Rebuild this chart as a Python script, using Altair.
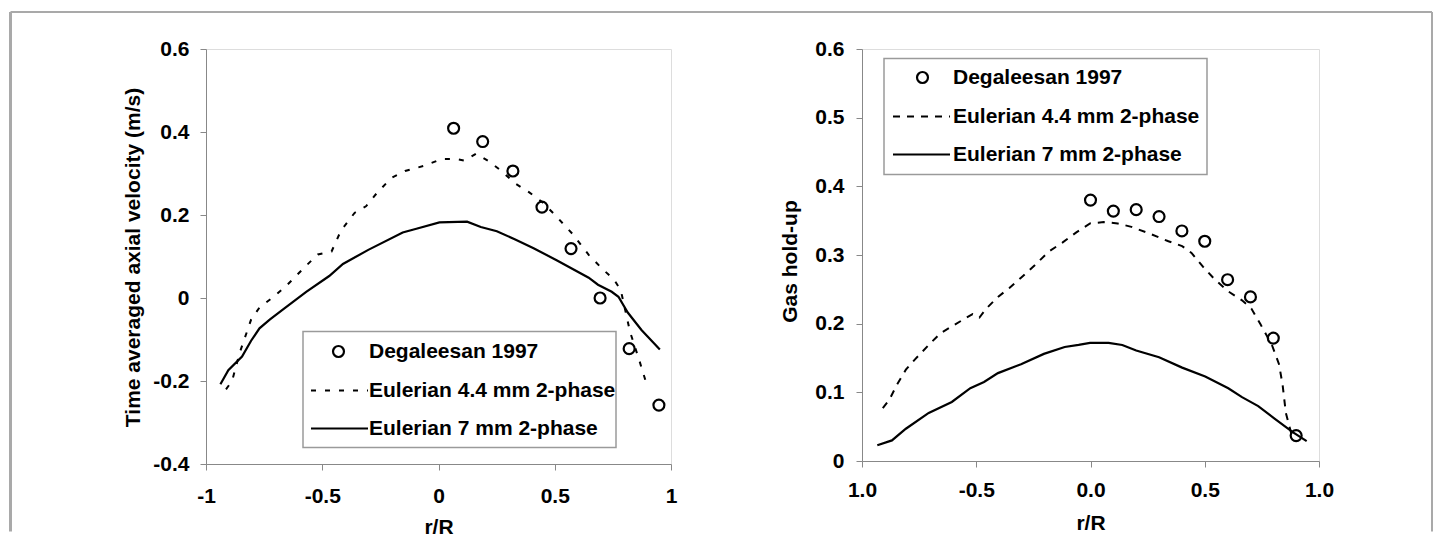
import altair as alt
import pandas as pd

FONT = "Liberation Sans"

# ---------------- Left panel: axial velocity ----------------
L_exp_x = [0.065, 0.19, 0.32, 0.445, 0.57, 0.695, 0.82, 0.948]
L_exp_y = [0.409, 0.377, 0.306, 0.219, 0.119, 0.0, -0.122, -0.258]

L_d44_x = [-0.914, -0.888, -0.855, -0.806, -0.77, -0.707, -0.657, -0.569, -0.519, -0.46,
           -0.42, -0.361, -0.312, -0.262, -0.203, -0.144, -0.065, 0.014, 0.073, 0.113,
           0.162, 0.212, 0.271, 0.33, 0.389, 0.449, 0.508, 0.577, 0.646, 0.705,
           0.754, 0.784, 0.824, 0.863, 0.893]
L_d44_y = [-0.22, -0.2, -0.132, -0.052, -0.023, 0.004, 0.028, 0.078, 0.105, 0.112,
           0.162, 0.205, 0.221, 0.255, 0.289, 0.306, 0.318, 0.335, 0.335, 0.331,
           0.348, 0.331, 0.306, 0.276, 0.255, 0.23, 0.196, 0.154, 0.104, 0.07,
           0.045, 0.019, -0.082, -0.149, -0.204]

L_d7_x = [-0.938, -0.904, -0.845, -0.806, -0.77, -0.726, -0.667, -0.569, -0.47, -0.411,
          -0.302, -0.154, -0.095, 0.004, 0.123, 0.182, 0.251, 0.33, 0.409, 0.508,
          0.646, 0.686, 0.745, 0.774, 0.814, 0.873, 0.952]
L_d7_y = [-0.208, -0.174, -0.141, -0.103, -0.073, -0.052, -0.027, 0.015, 0.053, 0.082,
          0.116, 0.158, 0.167, 0.182, 0.184, 0.171, 0.161, 0.141, 0.12, 0.091,
          0.049, 0.032, 0.015, 0.003, -0.035, -0.077, -0.124]

# ---------------- Right panel: gas hold-up ----------------
R_exp_x = [0.0, 0.1, 0.2, 0.3, 0.4, 0.5, 0.6, 0.7, 0.8, 0.9]
R_exp_y = [0.380, 0.364, 0.366, 0.356, 0.335, 0.320, 0.264, 0.239, 0.179, 0.037]

R_d44_x = [-0.909, -0.879, -0.849, -0.808, -0.768, -0.708, -0.657, -0.617, -0.567, -0.516,
           -0.486, -0.456, -0.405, -0.355, -0.304, -0.244, -0.183, -0.123, -0.062, -0.002,
           0.058, 0.119, 0.179, 0.26, 0.341, 0.401, 0.442, 0.492, 0.542, 0.603,
           0.663, 0.704, 0.744, 0.794, 0.825, 0.841, 0.855, 0.881]
R_d44_y = [0.077, 0.090, 0.110, 0.133, 0.148, 0.169, 0.186, 0.194, 0.204, 0.214,
           0.209, 0.222, 0.239, 0.252, 0.267, 0.285, 0.305, 0.318, 0.333, 0.346,
           0.348, 0.346, 0.341, 0.331, 0.320, 0.313, 0.303, 0.283, 0.265, 0.247,
           0.234, 0.222, 0.199, 0.169, 0.141, 0.110, 0.070, 0.037]

R_d7_x = [-0.933, -0.869, -0.808, -0.708, -0.607, -0.526, -0.466, -0.405, -0.304, -0.204,
          -0.113, -0.052, -0.002, 0.079, 0.139, 0.2, 0.3, 0.401, 0.502, 0.603,
          0.663, 0.734, 0.804, 0.885, 0.946]
R_d7_y = [0.023, 0.030, 0.047, 0.070, 0.086, 0.106, 0.115, 0.128, 0.141, 0.156,
          0.166, 0.169, 0.172, 0.172, 0.169, 0.161, 0.151, 0.136, 0.123, 0.106,
          0.093, 0.080, 0.062, 0.042, 0.029]

LEG_EXP = "Degaleesan 1997"
LEG_44 = "Eulerian 4.4 mm 2-phase"
LEG_7 = "Eulerian 7 mm 2-phase"

one = alt.Data(values=[{"k": 0}])


def legend_layers(bx0, bx1, by0, by1, rows, circ_x, line_x0, line_x1, text_x, dash):
    box = alt.Chart(one).mark_rect(fill="white", stroke="#9a9a9a", strokeWidth=1.5).encode(
        x=alt.value(bx0), x2=alt.value(bx1), y=alt.value(by0), y2=alt.value(by1))
    circ = alt.Chart(one).mark_point(shape="circle", filled=False, color="black",
                                     strokeWidth=2.2, size=120, opacity=1).encode(
        x=alt.value(circ_x), y=alt.value(rows[0]))
    l44 = alt.Chart(one).mark_rule(color="black", strokeWidth=2, strokeDash=dash).encode(
        x=alt.value(line_x0), x2=alt.value(line_x1), y=alt.value(rows[1]))
    l7 = alt.Chart(one).mark_rule(color="black", strokeWidth=2).encode(
        x=alt.value(line_x0), x2=alt.value(line_x1), y=alt.value(rows[2]))
    texts = []
    for lab, ry_ in zip([LEG_EXP, LEG_44, LEG_7], rows):
        texts.append(alt.Chart(one).mark_text(text=lab, align="left", baseline="middle",
                                              font=FONT, fontSize=21, fontWeight="bold",
                                              color="black").encode(
            x=alt.value(text_x), y=alt.value(ry_)))
    return [box, circ, l44, l7] + texts


def data_layers(ex, ey, dx, dy, sx, sy, xs, ys, dash):
    exp = alt.Chart(pd.DataFrame({"x": ex, "y": ey})).mark_point(
        shape="circle", filled=False, color="black", strokeWidth=2.2, size=120, opacity=1
    ).encode(x=xs("x"), y=ys("y"))
    d44 = alt.Chart(pd.DataFrame({"x": dx, "y": dy})).mark_line(
        color="black", strokeWidth=2, strokeDash=dash
    ).encode(x=xs("x"), y=ys("y"))
    d7 = alt.Chart(pd.DataFrame({"x": sx, "y": sy})).mark_line(
        color="black", strokeWidth=2.2
    ).encode(x=xs("x"), y=ys("y"))
    return [d44, d7, exp]


AX = dict(grid=False, domainColor="#888888", tickColor="#888888", tickSize=6,
          labelFont=FONT, labelFontSize=21, labelFontWeight="bold", labelColor="black",
          titleFont=FONT, titleFontSize=21, titleFontWeight="bold", titleColor="black",
          labelOverlap=False, labelFlush=False)

# Left panel
LW, LH = 465, 415
def lx(f):
    return alt.X(f"{f}:Q", scale=alt.Scale(domain=[-1, 1], nice=False, zero=False),
                 axis=alt.Axis(values=[-1, -0.5, 0, 0.5, 1], title="r/R",
                               labelExpr="toString(datum.value)", labelPadding=15,
                               titleX=LW / 2, titleY=63, titleBaseline="middle",
                               titleAlign="center", **AX))
def ly(f):
    return alt.Y(f"{f}:Q", scale=alt.Scale(domain=[-0.4, 0.6], nice=False, zero=False),
                 axis=alt.Axis(values=[-0.4, -0.2, 0, 0.2, 0.4, 0.6],
                               title="Time averaged axial velocity (m/s)",
                               labelExpr="toString(datum.value)", labelPadding=11,
                               titleX=-73, titleY=208, titleBaseline="middle",
                               titleAlign="center", titleAngle=270, **AX))

frame = [
    alt.Chart(one).mark_rule(color="#a9a9a9", strokeWidth=3).encode(
        x=alt.value(-195.5), y=alt.value(-37), y2=alt.value(482.5)),
    alt.Chart(one).mark_rule(color="#a9a9a9", strokeWidth=2).encode(
        x=alt.value(-195.5), x2=alt.value(1226), y=alt.value(-37)),
    alt.Chart(one).mark_rule(color="#a9a9a9", strokeWidth=2).encode(
        x=alt.value(1226), y=alt.value(-37), y2=alt.value(482.5)),
]

left = alt.layer(
    *frame,
    *data_layers(L_exp_x, L_exp_y, L_d44_x, L_d44_y, L_d7_x, L_d7_y, lx, ly, [5, 9]),
    *legend_layers(97, 410, 282.5, 398.5, [302.5, 341.5, 379.5], 132.5, 105, 162, 163, [5, 9]),
).properties(width=LW, height=LH)

# Right panel
RW, RH = 457, 412
def rx(f):
    return alt.X(f"{f}:Q", scale=alt.Scale(domain=[-1, 1], nice=False, zero=False),
                 axis=alt.Axis(values=[-1, -0.5, 0, 0.5, 1], title="r/R",
                               labelExpr="(datum.value == -1 || datum.value == 1) ? '1.0' : (datum.value == 0 ? '0.0' : toString(datum.value))",
                               labelPadding=12,
                               titleX=RW / 2, titleY=62, titleBaseline="middle",
                               titleAlign="center", **AX))
def ry(f):
    return alt.Y(f"{f}:Q", scale=alt.Scale(domain=[0, 0.6], nice=False, zero=False),
                 axis=alt.Axis(values=[0, 0.1, 0.2, 0.3, 0.4, 0.5, 0.6],
                               title="Gas hold-up",
                               labelExpr="toString(datum.value)", labelPadding=12,
                               titleX=-72, titleY=212, titleBaseline="middle",
                               titleAlign="center", titleAngle=270, **AX))

right = alt.layer(
    *data_layers(R_exp_x, R_exp_y, R_d44_x, R_d44_y, R_d7_x, R_d7_y, rx, ry, [7, 7]),
    *legend_layers(22, 345, 9.5, 125.5, [28.5, 67.5, 105.5], 60.5, 31, 88, 91, [7, 7]),
).properties(width=RW, height=RH)

chart = alt.hconcat(left, right, spacing=191, bounds="flush",
                    padding={"left": 0, "top": 2, "right": 0, "bottom": 0}).configure_view(
    stroke="#888888", strokeWidth=1).configure(background="white")

chart.save("out.html", embed_options={"renderer": "svg", "actions": False})
